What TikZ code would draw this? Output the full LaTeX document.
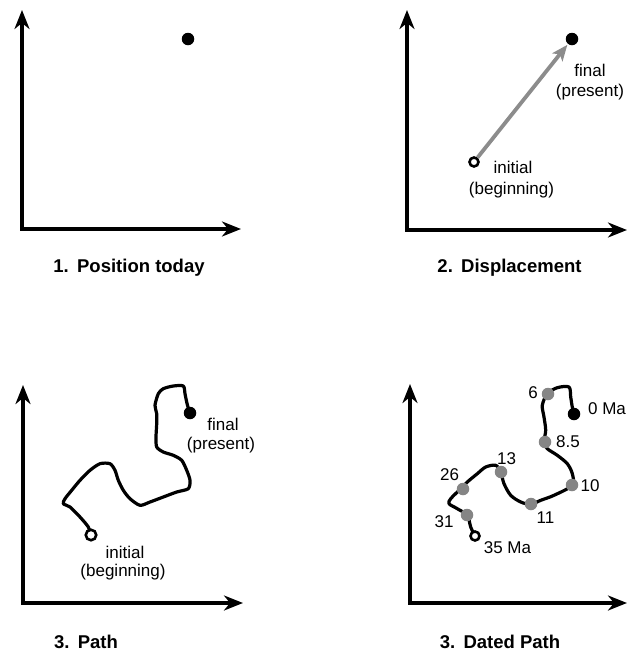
\documentclass[tikz,border=0pt]{standalone}
\usepackage{fontspec}
\setmainfont{Liberation Sans}
\usetikzlibrary{arrows.meta}
\definecolor{dotgray}{HTML}{858585}
\definecolor{arrowgray}{HTML}{8C8C8C}
\tikzset{
  axis/.style={line width=4pt, miter limit=10,
    {Stealth[length=19pt,width=15pt,inset=6pt]}-{Stealth[length=19pt,width=15pt,inset=6pt]}},
  blackdot/.style={circle, fill=black, inner sep=0pt, minimum size=12.5pt},
  graydot/.style={circle, fill=dotgray, inner sep=0pt, minimum size=12.5pt},
  opendot/.style={circle, draw=black, fill=white, line width=2.6pt, inner sep=0pt, minimum size=9pt},
  lbl/.style={inner sep=0pt, font=\fontsize{17}{19}\selectfont},
  captxt/.style={inner sep=0pt, font=\fontsize{18.5}{21}\selectfont\bfseries},
  pathline/.style={line width=3.2pt, line join=round, line cap=round},
  disparrow/.style={line width=3.8pt, draw=arrowgray, -{Stealth[length=16pt,width=13pt,inset=4pt]}, shorten >=1pt}
}
\begin{document}
\begin{tikzpicture}[x=1pt,y=-1pt]
\useasboundingbox (0,0) rectangle (629,654);
\fill[white] (0,0) rectangle (629,654);

% ---------- Panel 1 ----------
\coordinate (y1) at (22,10);
\coordinate (o1) at (22,229);
\coordinate (x1) at (241,229);
\draw[axis] (y1) -- (o1) -- (x1);
\node[blackdot] (p1) at (188,39) {};
\node[captxt] (c1) at (129,268) {1.\hspace{0.45em}Position today};

% ---------- Panel 2 ----------
\coordinate (y2) at (407,10);
\coordinate (o2) at (407,230);
\coordinate (x2) at (627,230);
\draw[axis] (y2) -- (o2) -- (x2);
\node[opendot] (i2) at (474,162) {};
\node[blackdot] (f2) at (572,39) {};
\draw[disparrow] (i2) -- (f2);
\node[lbl] (fl2) at (590,70) {final};
\node[lbl] (pl2) at (590,92) {(present)};
\node[lbl] (il2) at (513,167) {initial};
\node[lbl] (bl2) at (511.5,190) {(beginning)};
\node[captxt] (c2) at (509.5,268) {2.\hspace{0.45em}Displacement};

% ---------- Panel 3 ----------
\coordinate (y3) at (23,385);
\coordinate (o3) at (23,603);
\coordinate (x3) at (243,603);
\draw[axis] (y3) -- (o3) -- (x3);
\draw[pathline] plot[smooth, tension=0.45] coordinates {
  (90.7,535.3) (88.3,527) (80,517) (70,507) (63.3,503.7) (65,498.7)
  (71.7,490.3) (80,480.3) (90,470.3) (100,463.7) (110,463.7) (115,470.3)
  (118.3,480.3) (123.3,490.3) (130,498.7) (140,505.3) (150,502) (163.3,497)
  (176.7,492) (188.3,488.7) (190,480.3) (186.7,470.3) (181.7,460.3)
  (173.3,455.3) (163.3,452) (156.7,447) (156,437) (156.7,423.7) (156.7,413.7)
  (155,405.3) (158.3,393.7) (163.3,388.7) (173.3,386) (183.3,386) (185,393.7)
  (186.7,402) (189.3,412)};
\node[opendot, minimum size=10.5pt] (i3) at (91,535) {};
\node[blackdot] (f3) at (190,413) {};
\node[lbl] (fl3) at (223,424) {final};
\node[lbl] (pl3) at (221,445) {(present)};
\node[lbl] (il3) at (125,552) {initial};
\node[lbl] (bl3) at (123,572) {(beginning)};
\node[captxt] (c3) at (86,642) {3.\hspace{0.45em}Path};

% ---------- Panel 4 ----------
\coordinate (y4) at (410,384);
\coordinate (o4) at (410,603);
\coordinate (x4) at (627,603);
\draw[axis] (y4) -- (o4) -- (x4);
\draw[pathline] plot[smooth, tension=0.5] coordinates {
  (475,536.3) (470.7,527) (467.3,515.3) (457.3,508.7) (449,503.7) (450.7,498.7)
  (460.7,488.7) (467.3,482) (477.3,473.7) (485.7,467) (495.7,465.3) (500.7,472)
  (504,483.7) (510.7,495.3) (520.7,502) (530.7,504.3) (540.7,500.3) (554,495.3)
  (572.3,485.3) (572.3,473.7) (567.3,463.7) (557.3,455.3) (547.3,448.7)
  (544,442) (545.7,430.3) (544,417) (542.3,405.3) (547.3,393.7) (557.3,387.7)
  (569,387) (570.7,397) (572.3,407) (574,413)};
\node[graydot] (d31) at (467,515) {};
\node[graydot] (d26) at (463,489) {};
\node[graydot] (d13) at (501,472) {};
\node[graydot] (d11) at (531,504) {};
\node[graydot] (d10) at (572,485) {};
\node[graydot] (d85) at (545,442) {};
\node[graydot] (d6) at (548,394) {};
\node[opendot] (i4) at (475,536) {};
\node[blackdot] (f4) at (574,414) {};
\node[lbl] (l6) at (533,393) {6};
\node[lbl] (l0) at (607,409) {0 Ma};
\node[lbl] (l85) at (568,442) {8.5};
\node[lbl] (l13) at (506.5,459) {13};
\node[lbl] (l26) at (449.5,475) {26};
\node[lbl] (l10) at (590,485.5) {10};
\node[lbl] (l11) at (545.5,518) {11};
\node[lbl] (l31) at (444,522) {31};
\node[lbl] (l35) at (507.5,548) {35 Ma};
\node[captxt] (c4) at (500,642) {3.\hspace{0.45em}Dated Path};
\end{tikzpicture}
\end{document}
